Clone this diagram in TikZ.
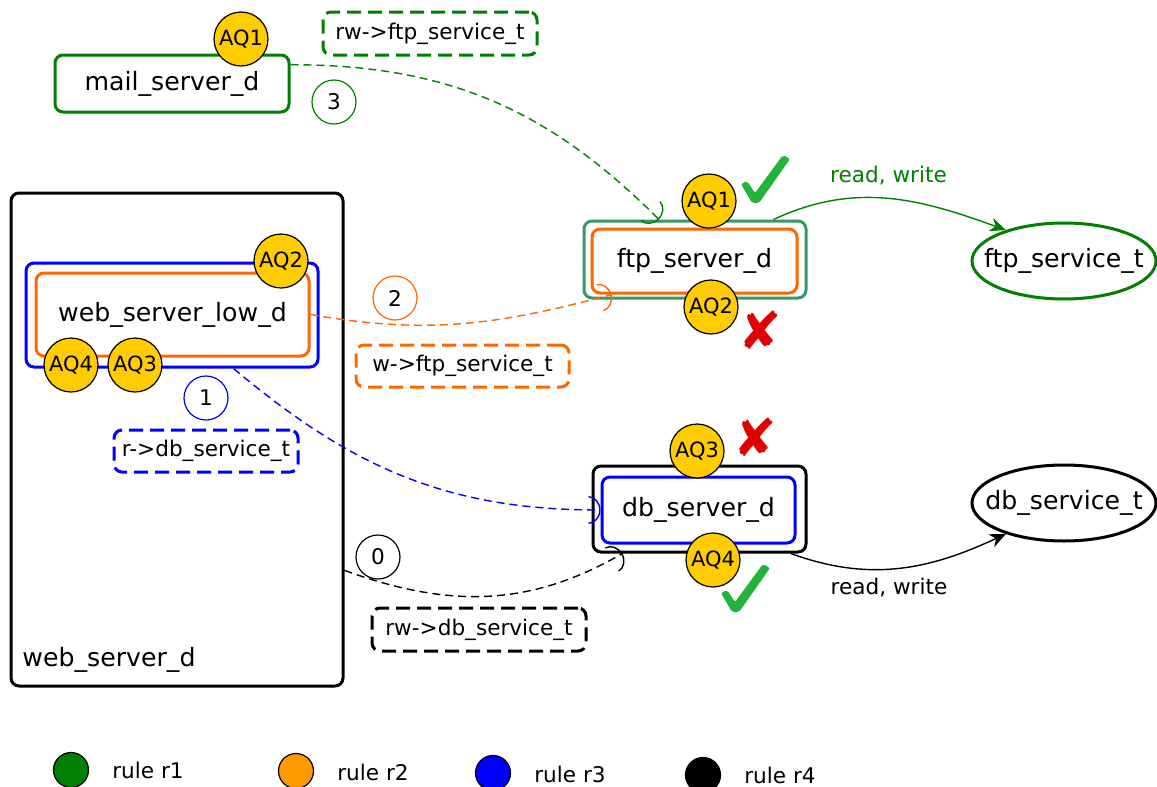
\documentclass[tikz,border=0pt]{standalone}
\usepackage{fontspec}
\setmainfont{DejaVu Sans}
\usetikzlibrary{shapes.geometric,arrows.meta}
\definecolor{rgreen}{HTML}{008000}
\definecolor{rorange}{HTML}{FF6600}
\definecolor{legorange}{HTML}{FF9900}
\definecolor{aqgold}{HTML}{FFCC00}
\definecolor{seagreen}{HTML}{339966}
\definecolor{okgreen}{HTML}{22B33A}
\definecolor{nored}{HTML}{E00000}
\tikzset{
  dombox/.style={draw,rounded corners=4pt,line width=1.5pt,inner sep=0pt,font=\fontsize{12.6}{15}\selectfont},
  service/.style={ellipse,draw,line width=1.5pt,inner sep=0pt,minimum width=92pt,minimum height=38pt,font=\fontsize{12.6}{15}\selectfont},
  aq/.style={circle,draw,fill=aqgold,line width=0.6pt,inner sep=0pt,minimum size=27pt,font=\fontsize{10.5}{12}\selectfont},
  rulebox/.style={draw,dash pattern=on 7pt off 3.5pt,rounded corners=4pt,line width=1.5pt,inner sep=0pt,font=\fontsize{10.8}{13}\selectfont},
  ordnum/.style={circle,draw,line width=0.6pt,inner sep=0pt,minimum size=22pt,font=\fontsize{10.8}{13}\selectfont},
  flow/.style={dash pattern=on 4pt off 2.5pt,line width=0.7pt,-{Arc Barb[length=6pt,width=14pt]}},
  access/.style={line width=0.7pt,-{Stealth[length=8pt,width=7pt]}},
  legdot/.style={circle,draw,line width=0.6pt,minimum size=17.5pt,inner sep=0pt},
  small/.style={font=\fontsize{10.8}{13}\selectfont},
  verdict/.style={font=\fontsize{26}{26}\selectfont},
}
\begin{document}
\begin{tikzpicture}[x=0.5pt,y=-0.5pt]
  \useasboundingbox (0,0) rectangle (1157,787);
  % mail server
  \node[dombox,draw=rgreen,minimum width=117pt,minimum height=28.5pt] (mail) at (172,83.5) {mail\_server\_d};
  \node[aq] (mailaq1) at (241,39) {AQ1};
  \node[rulebox,draw=rgreen,minimum width=107pt,minimum height=21.5pt] (rbox3) at (430,33.5) {rw->ftp\_service\_t};
  \node[ordnum,draw=rgreen] (num3) at (334,102) {3};
  % web server
  \node[dombox,minimum width=166pt,minimum height=246.5pt] (web) at (177,439.5) {};
  \node[font=\fontsize{12.6}{15}\selectfont] (weblabel) at (109,660) {web\_server\_d};
  \node[dombox,draw=blue,minimum width=146pt,minimum height=52pt] (wblue) at (172,315) {};
  \node[dombox,draw=rorange,minimum width=136.5pt,minimum height=41.5pt] (wlow) at (172.5,314.5) {web\_server\_low\_d};
  \node[aq] (webaq2) at (281,261) {AQ2};
  \node[aq] (webaq4) at (71,365) {AQ4};
  \node[aq] (webaq3) at (135,365) {AQ3};
  \node[ordnum,draw=blue] (num1) at (206,398) {1};
  \node[rulebox,draw=blue,minimum width=92pt,minimum height=21pt] (rbox1) at (206,451) {r->db\_service\_t};
  % ftp server
  \node[dombox,draw=seagreen,minimum width=111pt,minimum height=38.5pt] (ftpo) at (695,259.5) {};
  \node[dombox,draw=rorange,minimum width=102.5pt,minimum height=32pt] (ftpi) at (694.5,261) {ftp\_server\_d};
  \node[service,draw=rgreen] (ftps) at (1064,261) {\makebox[0pt]{ftp\_service\_t}};
  \node[ordnum,draw=rorange] (num2) at (395,298) {2};
  \node[rulebox,draw=rorange,minimum width=106.5pt,minimum height=21pt] (rbox2) at (462.5,366) {w->ftp\_service\_t};
  % db server
  \node[dombox,minimum width=106.5pt,minimum height=43pt] (dbo) at (699.5,509) {};
  \node[dombox,draw=blue,minimum width=96.5pt,minimum height=33pt] (dbi) at (698.5,510) {db\_server\_d};
  \node[service] (dbs) at (1064,503) {\makebox[0pt]{db\_service\_t}};
  \node[ordnum] (num0) at (378,557) {0};
  \node[rulebox,minimum width=107pt,minimum height=21.5pt] (rbox0) at (479,629.5) {rw->db\_service\_t};
  % flows
  \draw[flow,rgreen] (mail.9) to[out=0,in=135] (ftpo.132);
  \draw[flow,rorange] (wlow.east) to[out=-10,in=195] (ftpi.202);
  \draw[flow,blue] (wblue.-41) to[out=-40,in=180] (dbi.west);
  \draw[flow] (web.-38) to[out=-20,in=210] (dbo.210);
  \draw[access,rgreen] (ftpo.27) to[out=25,in=160] node[above=3pt,small,text=rgreen] (rwftp) {read, write} (ftps.152);
  \draw[access] (dbo.-26) to[out=-20,in=205] node[pos=0.45,below=1pt,small] (rwdb) {read, write} (dbs.208);
  % AQ on targets
  \node[aq] (ftpaq1) at (709,201) {AQ1};
  \node[aq] (ftpaq2) at (711,307) {AQ2};
  \node[aq] (dbaq3) at (697,451) {AQ3};
  \node[aq] (dbaq4) at (713,560) {AQ4};
  % verdicts
  \foreach \cx/\cy in {765/180, 745/589}
    \fill[okgreen,shift={(\cx,\cy)},rounded corners=1pt] (-24,4) -- (-18,1) -- (-10,13) -- (18,-25) -- (25,-21) -- (-6,23) -- (-13,23) -- cycle;
  \node[verdict,text=nored] (no1) at (760,330) {✘};
  \node[verdict,text=nored] (no2) at (755,437) {✘};
  % legend
  \node[legdot,fill=rgreen] (leg1) at (71,770) {};
  \node[small] (leg1t) at (148,770) {rule r1};
  \node[legdot,fill=legorange] (leg2) at (296,771) {};
  \node[small] (leg2t) at (373,772) {rule r2};
  \node[legdot,fill=blue] (leg3) at (493,773) {};
  \node[small] (leg3t) at (570,774) {rule r3};
  \node[legdot,fill=black] (leg4) at (703,775) {};
  \node[small] (leg4t) at (780,775) {rule r4};
\end{tikzpicture}
\end{document}
